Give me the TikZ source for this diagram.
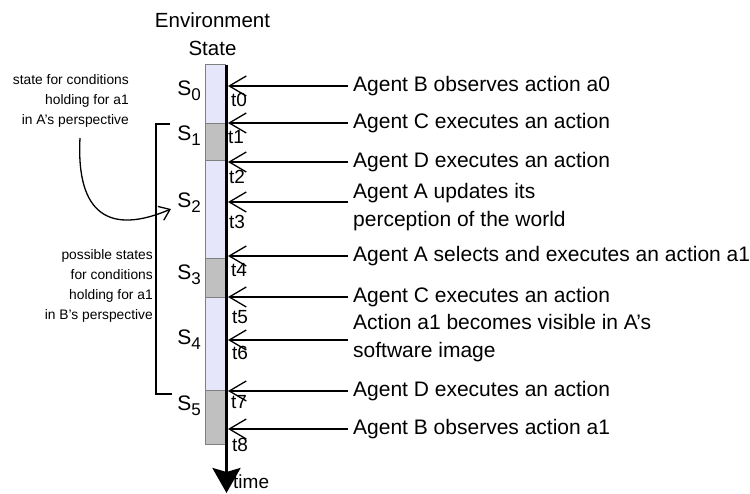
\documentclass[tikz,border=0pt]{standalone}
\usepackage{fontspec}
\setmainfont{Liberation Sans}
\usetikzlibrary{arrows.meta}
\definecolor{lav}{HTML}{E6E6FA}
\definecolor{segray}{HTML}{C0C0C0}
\definecolor{edgegray}{HTML}{7F7F7F}
\newcommand\ssub[1]{\raisebox{-5pt}{\fontsize{17}{17}\selectfont #1}}
\begin{document}
\begin{tikzpicture}[x=1pt,y=-1pt,
  big/.style={font=\fontsize{20.5}{28}\selectfont},
  tlab/.style={font=\fontsize{19}{22}\selectfont, anchor=west, inner sep=0pt},
  slab/.style={font=\fontsize{21}{24}\selectfont, anchor=base east, inner sep=0pt},
  small/.style={font=\fontsize{13.8}{20}\selectfont, anchor=east, align=right, inner sep=0pt},
  evt/.style={font=\fontsize{21}{28}\selectfont, anchor=west, align=left, inner xsep=5pt, inner ysep=0pt},
  hline/.style={line width=1.3pt, -{Straight Barb[length=17pt,width=20pt]}},
  axis/.style={line width=3pt, -{Stealth[length=25pt,width=28pt,inset=4pt]}},
  seg/.style={draw=edgegray, line width=1pt},
  brk/.style={line width=1.5pt},
  curv/.style={line width=1.3pt, -{Straight Barb[length=10pt,width=15pt]}}
]
\useasboundingbox (0,0) rectangle (750,494);

% state bar segments
\filldraw[seg, fill=lav]    (205,65)  rectangle (225,124);
\filldraw[seg, fill=segray] (205,124) rectangle (225,161);
\filldraw[seg, fill=lav]    (205,161) rectangle (225,259);
\filldraw[seg, fill=segray] (205,259) rectangle (225,298);
\filldraw[seg, fill=lav]    (205,298) rectangle (225,391);
\filldraw[seg, fill=segray] (205,391) rectangle (225,444);

% time axis
\coordinate (top) at (226.5,65);
\coordinate (bot) at (226.5,493);
\draw[axis] (top) -- (bot);
\node[tlab] (time) at (233,482) {time};

\node[big, align=center] (env) at (212.5,34) {Environment\\State};

% state labels
\node[slab] (s0) at (201,96)  {S\ssub{0}};
\node[slab] (s1) at (201,141) {S\ssub{1}};
\node[slab] (s2) at (201,208) {S\ssub{2}};
\node[slab] (s3) at (201,280) {S\ssub{3}};
\node[slab] (s4) at (201,345) {S\ssub{4}};
\node[slab] (s5) at (201,410) {S\ssub{5}};

% axis points
\coordinate (p0) at (228,86);
\coordinate (p1) at (228,123);
\coordinate (p2) at (228,162);
\coordinate (p3) at (228,202);
\coordinate (p4) at (228,256);
\coordinate (p5) at (228,297);
\coordinate (p6) at (228,340);
\coordinate (p7) at (228,391);
\coordinate (p8) at (228,429);

% time labels
\node[tlab] (t0) at (231,100) {t0};
\node[tlab] (t1) at (228,137) {t1};
\node[tlab] (t2) at (229,177) {t2};
\node[tlab] (t3) at (229,222) {t3};
\node[tlab] (t4) at (231,270) {t4};
\node[tlab] (t5) at (232,317) {t5};
\node[tlab] (t6) at (232,353) {t6};
\node[tlab] (t7) at (231,402) {t7};
\node[tlab] (t8) at (232,445) {t8};

% events
\node[evt] (r0) at (348,86)  {Agent B observes action a0};
\node[evt] (r1) at (348,123) {Agent C executes an action};
\node[evt] (r2) at (348,162) {Agent D executes an action};
\node[evt] (r3) at (348,207) {Agent A updates its\\perception of the world};
\node[evt] (r4) at (348,256) {Agent A selects and executes an action a1};
\node[evt] (r5) at (348,297) {Agent C executes an action};
\node[evt] (r6) at (348,338) {Action a1 becomes visible in A’s\\software image};
\node[evt] (r7) at (348,391) {Agent D executes an action};
\node[evt] (r8) at (348,429) {Agent B observes action a1};

\foreach \i in {0,...,8} {
  \draw[hline] (r\i.west |- p\i) -- (p\i);
}

% left annotations
\node[small] (la) at (129,101) {state for conditions\\holding for a1\\in A’s perspective};
\node[small] (lb) at (153,286) {possible states\\for conditions\\holding for a1\\in B’s perspective};

% curved arrow
\coordinate (c0) at (80,138);
\coordinate (c1) at (171,209);
\draw[curv] (c0) .. controls (76,215) and (110,235) .. (c1);

% bracket
\coordinate (b0) at (170,124);
\coordinate (bx) at (156,260);
\coordinate (b1) at (172,394);
\draw[brk] (b0) -| (bx) |- (b1);
\end{tikzpicture}
\end{document}
